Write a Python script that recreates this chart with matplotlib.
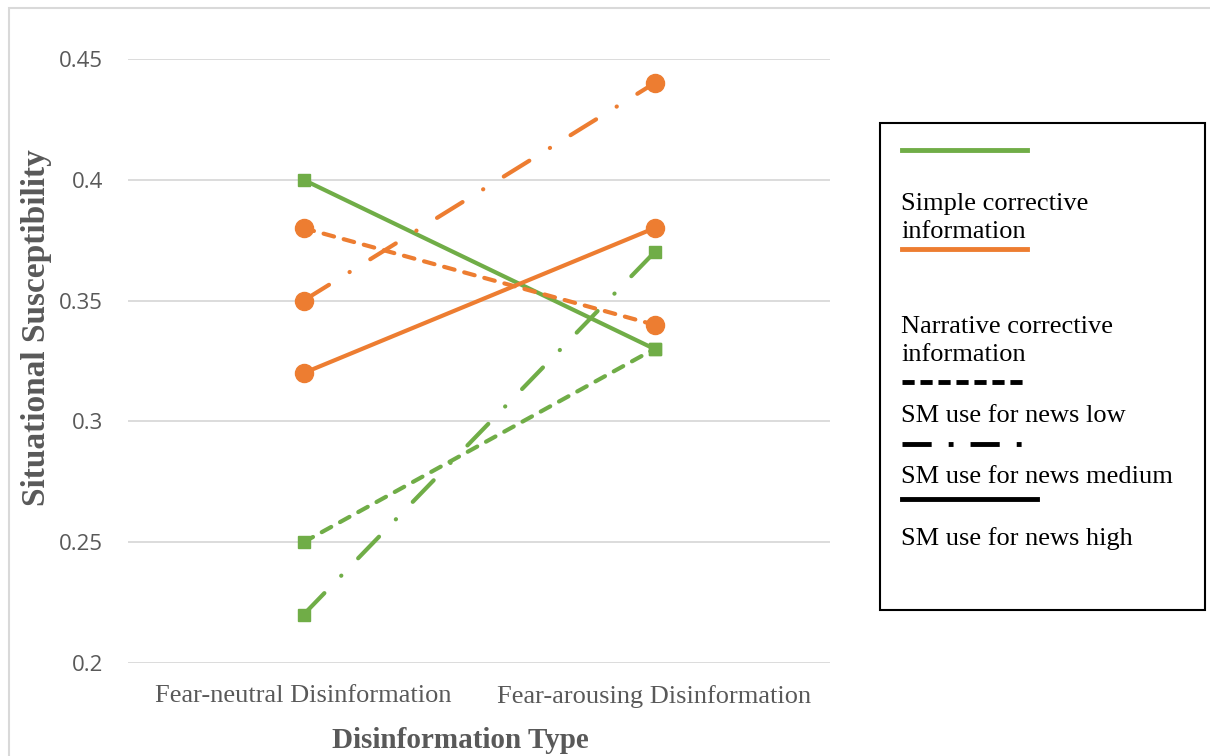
import matplotlib.pyplot as plt
from matplotlib.patches import Rectangle
from matplotlib.lines import Line2D

# data
categories = ['Fear-neutral Disinformation', 'Fear-arousing Disinformation']
simple_low = [0.25, 0.33]
simple_medium = [0.22, 0.37]
simple_high = [0.40, 0.33]
narrative_low = [0.38, 0.34]
narrative_medium = [0.35, 0.44]
narrative_high = [0.32, 0.38]
yticks = [0.2, 0.25, 0.3, 0.35, 0.4, 0.45]
ytick_labels = ['0.2', '0.25', '0.3', '0.35', '0.4', '0.45']

GREEN = '#70AD47'
ORANGE = '#ED7D31'
SERIF = 'Liberation Serif'

W, H = 1210, 756
fig = plt.figure(figsize=(W / 100, H / 100), dpi=100)
ax = fig.add_axes([128 / W, 1 - 663 / H, 702 / W, 604 / H])

x = [0, 1]
dashed = (0, (2.6, 2.4))
dashdot = (0, (7.2, 5.8, 0.05, 5.8))
style = dict(lw=3, dash_capstyle='round', solid_capstyle='round')

ax.plot(x, simple_low, color=GREEN, ls=dashed, marker='s', ms=8.5, **style)
ax.plot(x, simple_medium, color=GREEN, ls=dashdot, marker='s', ms=8.5, **style)
ax.plot(x, simple_high, color=GREEN, ls='-', marker='s', ms=8.5, **style)
ax.plot(x, narrative_low, color=ORANGE, ls=dashed, marker='o', ms=13, **style)
ax.plot(x, narrative_medium, color=ORANGE, ls=dashdot, marker='o', ms=13, **style)
ax.plot(x, narrative_high, color=ORANGE, ls='-', marker='o', ms=13, **style)

ax.set_xlim(-0.5, 1.5)
ax.set_ylim(0.2, 0.45)
ax.set_yticks(yticks)
ax.set_yticklabels(ytick_labels, fontfamily='Open Sans', fontsize=16, color='#595959')
ax.set_xticks(x)
ax.set_xticklabels(categories, fontfamily=SERIF, fontsize=19, color='#595959')
ax.tick_params(length=0)
ax.tick_params(axis='y', pad=18)
ax.tick_params(axis='x', pad=16)
ax.grid(axis='y', color='#D9D9D9', lw=1.3)
ax.set_axisbelow(True)
for s in ax.spines.values():
    s.set_visible(False)

fig.text(460 / W, 1 - 740 / H, 'Disinformation Type', fontfamily=SERIF, fontsize=21,
         fontweight='bold', color='#595959', ha='center', va='center')
fig.text(37 / W, 1 - 328 / H, 'Situational Susceptibility', fontfamily=SERIF, fontsize=24,
         fontweight='bold', color='#595959', rotation=90, ha='center', va='center')

# outer chart border
fig.add_artist(Rectangle((9 / W, -0.02), 1.1, 1 - 8 / H + 0.02, transform=fig.transFigure,
                         fill=False, ec='#D9D9D9', lw=1.5))

# legend box drawn by hand
fig.add_artist(Rectangle((880 / W, 1 - 610 / H), 325 / W, 487 / H, transform=fig.transFigure,
                         fill=False, ec='black', lw=1.5))

def hline(x0, x1, y, color, ls):
    fig.add_artist(Line2D([x0 / W, x1 / W], [1 - y / H, 1 - y / H], transform=fig.transFigure,
                          color=color, lw=3.5, ls=ls))

def label(y, s):
    fig.text(901 / W, 1 - y / H, s, fontfamily=SERIF, fontsize=19, color='black',
             ha='left', va='center', linespacing=1.35)

hline(902, 1027, 150, GREEN, '-')
label(218, 'Simple corrective\ninformation')
hline(902, 1027, 249, ORANGE, '-')
label(341, 'Narrative corrective\ninformation')
hline(902, 1027, 382, 'black', (0, (2.5, 1.2)))
label(416, 'SM use for news low')
hline(902, 1037, 444, 'black', (0, (6, 3.5, 1, 3.5)))
label(477, 'SM use for news medium')
hline(902, 1037, 499, 'black', '-')
label(539, 'SM use for news high')

fig.savefig('out.png', dpi=100)
